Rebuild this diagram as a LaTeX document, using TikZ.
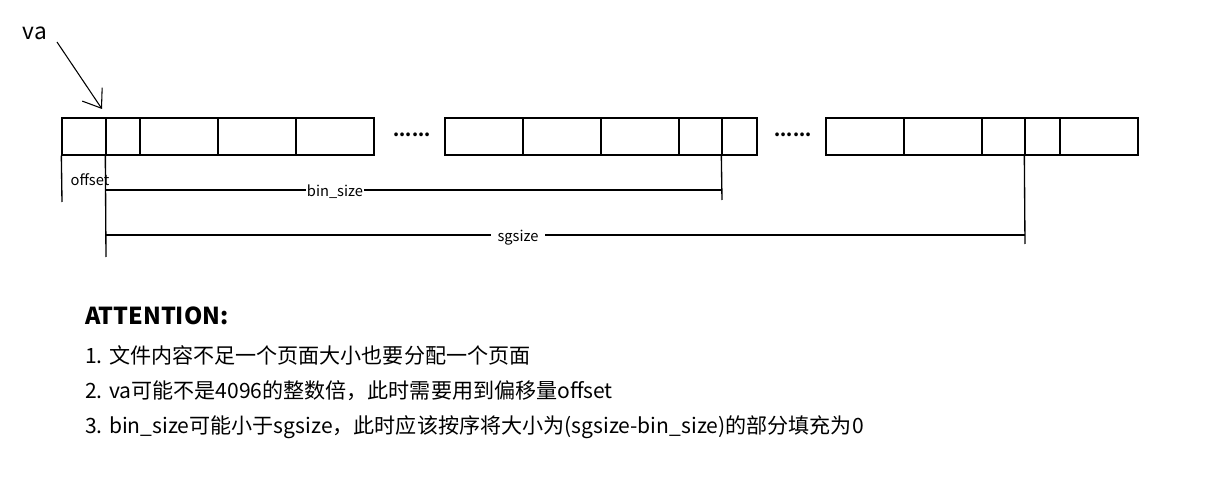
\documentclass[tikz,border=0pt]{standalone}
\usepackage{fontspec}
\setmainfont{Noto Sans CJK SC}
\usetikzlibrary{arrows.meta,fit}
\tikzset{
  cell/.style={draw, line width=1pt, inner sep=0pt},
  dim/.style={line width=1pt},
  lbl/.style={font=\fontsize{11}{13}\selectfont, inner sep=1pt, fill=white},
  note/.style={anchor=west, inner sep=0pt, font=\fontsize{15.8}{18}\selectfont},
}
\begin{document}
\begin{tikzpicture}[x=0.75pt,y=-0.75pt]
\useasboundingbox (0,0) rectangle (1214,477);
% group 1
\node[cell, fit={(62,118) (106,155)}] (a1) {};
\node[cell, fit={(106,118) (140,155)}] (a2) {};
\node[cell, fit={(140,118) (218,155)}] (a3) {};
\node[cell, fit={(218,118) (296,155)}] (a4) {};
\node[cell, fit={(296,118) (374,155)}] (a5) {};
\node[font=\fontsize{13}{15}\selectfont\bfseries, inner sep=0pt] (d1) at (412,135) {......};
% group 2
\node[cell, fit={(445,118) (523,155)}] (b1) {};
\node[cell, fit={(523,118) (601,155)}] (b2) {};
\node[cell, fit={(601,118) (679,155)}] (b3) {};
\node[cell, fit={(679,118) (722,155)}] (b4) {};
\node[cell, fit={(722,118) (757,155)}] (b5) {};
\node[font=\fontsize{13}{15}\selectfont\bfseries, inner sep=0pt] (d2) at (793,135) {......};
% group 3
\node[cell, fit={(826,118) (904,155)}] (c1) {};
\node[cell, fit={(904,118) (982,155)}] (c2) {};
\node[cell, fit={(982,118) (1025,155)}] (c3) {};
\node[cell, fit={(1025,118) (1060,155)}] (c4) {};
\node[cell, fit={(1060,118) (1138,155)}] (c5) {};
% dimension ends
\coordinate (e1) at (62,202);
\coordinate (e2) at (106,257);
\coordinate (e3) at (722,200);
\coordinate (e4) at (1025,244);
\coordinate (bs1) at (106,190);
\coordinate (bs2) at (722,190);
\coordinate (sg1) at (106,235);
\coordinate (sg2) at (1025,235);
\draw[dim] (a1.south west) -- (e1);
\draw[dim] (a2.south west) -- (e2);
\draw[dim] (b5.south west) -- (e3);
\draw[dim] (c4.south west) -- (e4);
\draw[dim] (bs1) -- (bs2);
\draw[dim] (sg1) -- (sg2);
\node[lbl, fill=none] (off) at (90,180) {offset};
\node[lbl] (bsl) at (335,192) {bin\_size};
\node[lbl, inner xsep=5pt] (sgl) at (518,238) {sgsize};
% va arrow
\node[font=\fontsize{17}{19}\selectfont, inner sep=0pt] (va) at (35,33) {va};
\coordinate (vs) at (57,42);
\coordinate (vt) at (102,109);
\draw[line width=0.8pt, -{Straight Barb[length=12.5pt, width=18pt, line width=0.8pt]}] (vs) -- (vt);
% notes
\node[note, font=\fontsize{17.5}{20}\selectfont\bfseries] (att) at (85,316) {ATTENTION:};
\node[note] (n1) at (85,355) {1. 文件内容不足一个页面大小也要分配一个页面};
\node[note] (n2) at (85,391) {2. va可能不是4096的整数倍，此时需要用到偏移量offset};
\node[note] (n3) at (85,427) {3. bin\_size可能小于sgsize，此时应该按序将大小为(sgsize-bin\_size)的部分填充为0};
\end{tikzpicture}
\end{document}
